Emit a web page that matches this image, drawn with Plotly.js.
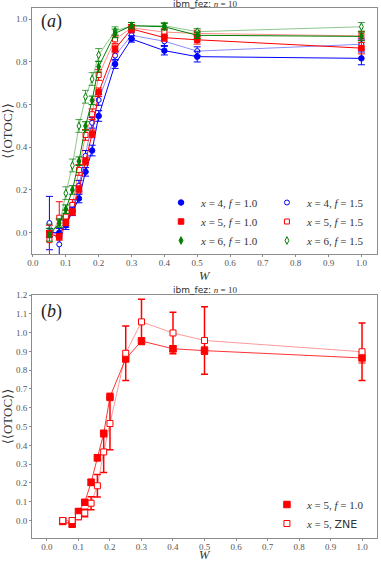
<!DOCTYPE html>
<html>
<head>
<meta charset="utf-8">
<script src="https://cdn.plot.ly/plotly-3.0.1.min.js"></script>
<style>
	html, body { margin: 0; padding: 0; background: #fff; }
	#plot { width: 381px; height: 563px; }
</style>
</head>
<body>
<div id="plot"></div>
<script>
(function () {

	'use strict';

	// disorder strengths
	const W = [0.05, 0.08, 0.1, 0.12, 0.14, 0.16, 0.18, 0.2, 0.25, 0.3, 0.4, 0.5, 1.0];

	// panel (a) - x = 4
	const x4_f10 = [0.0, 0.0, 0.035, 0.10, 0.16, 0.285, 0.385, 0.547, 0.79, 0.908, 0.853, 0.825, 0.817];
	const x4_f10_err = [0.02, 0.02, 0.02, 0.02, 0.02, 0.02, 0.025, 0.025, 0.02, 0.015, 0.02, 0.025, 0.03];
	const x4_f15 = [0.045, -0.055, 0.05, 0.115, 0.22, 0.36, 0.515, 0.622, 0.83, 0.925, 0.897, 0.851, 0.883];
	const x4_f15_err = [0.125, 0.05, 0.025, 0.02, 0.025, 0.025, 0.025, 0.025, 0.02, 0.015, 0.02, 0.02, 0.025];

	// x = 5 (also the filled series of panel b)
	const x5_f10 = [-0.005, -0.02, 0.048, 0.097, 0.203, 0.334, 0.463, 0.658, 0.861, 0.955, 0.914, 0.904, 0.865];
	const x5_f10_err = [0.015, 0.015, 0.015, 0.015, 0.017, 0.017, 0.018, 0.02, 0.018, 0.018, 0.017, 0.02, 0.027];
	const x5_f15 = [-0.035, 0.07, 0.075, 0.13, 0.294, 0.458, 0.555, 0.739, 0.906, 0.96, 0.94, 0.934, 0.922];
	const x5_f15_err = [0.07, 0.075, 0.03, 0.025, 0.025, 0.025, 0.025, 0.025, 0.02, 0.015, 0.015, 0.015, 0.02];

	// x = 6
	const x6_f10 = [-0.01, 0.045, 0.11, 0.2, 0.335, 0.5, 0.62, 0.778, 0.934, 0.97, 0.965, 0.925, 0.92];
	const x6_f10_err = [0.03, 0.02, 0.02, 0.02, 0.02, 0.02, 0.02, 0.025, 0.02, 0.015, 0.015, 0.015, 0.02];
	const x6_f15 = [0.01, 0.03, 0.185, 0.315, 0.50, 0.637, 0.72, 0.833, 0.945, 0.97, 0.97, 0.942, 0.965];
	const x6_f15_err = [0.03, 0.03, 0.03, 0.03, 0.03, 0.03, 0.03, 0.03, 0.02, 0.015, 0.015, 0.015, 0.02];

	// panel (b) - ZNE
	const zne = [0.0, 0.0, 0.02, 0.04, 0.092, 0.185, 0.365, 0.516, 0.89, 1.057, 0.998, 0.958, 0.898];
	const zne_err = [0.015, 0.012, 0.015, 0.02, 0.035, 0.06, 0.11, 0.14, 0.145, 0.12, 0.11, 0.18, 0.153];

	const serif = '"Liberation Serif", "DejaVu Serif", serif';
	const sans = '"DejaVu Sans", sans-serif';

	const label = ( x, f ) => `<i>x</i> = ${x}, <i>f</i> = ${f}`;

	/**
	* line + markers/errorbars pair for one series
	*/
	const series = ( y, err, o ) => {
		const line = {
			x: W, y: y,
			xaxis: o.xaxis, yaxis: o.yaxis,
			type: 'scatter', mode: 'lines',
			line: { color: o.lineColor, width: 1 },
			showlegend: false,
			hoverinfo: 'skip',
		};
		const pts = {
			x: W, y: y,
			xaxis: o.xaxis, yaxis: o.yaxis,
			name: o.name,
			legend: o.legend,
			type: 'scatter', mode: 'markers',
			marker: {
				symbol: o.symbol,
				size: o.size || 6,
				color: o.open ? '#ffffff' : o.color,
				line: { color: o.color, width: 1 },
			},
			error_y: {
				type: 'data', array: err, visible: true,
				color: o.errColor || o.color,
				thickness: o.errThick || 1,
				width: 3.5,
			},
		};
		return [ line, pts ];
	};

	const a = { xaxis: 'x', yaxis: 'y' };
	const b = { xaxis: 'x2', yaxis: 'y2' };

	const data = [].concat(
		series( x4_f15, x4_f15_err, { ...a, name: label(4, '1.5'), legend: 'legend2', color: '#0000ff', lineColor: 'rgba(0,0,255,0.45)', symbol: 'circle', open: true, size: 5 } ),
		series( x5_f15, x5_f15_err, { ...a, name: label(5, '1.5'), legend: 'legend2', color: '#ff0000', lineColor: 'rgba(255,0,0,0.45)', symbol: 'square', open: true, size: 5 } ),
		series( x6_f15, x6_f15_err, { ...a, name: label(6, '1.5'), legend: 'legend2', color: '#008000', lineColor: 'rgba(0,128,0,0.45)', errColor: 'rgba(0,128,0,0.7)', symbol: 'diamond-tall', open: true, size: 5.5 } ),
		series( x4_f10, x4_f10_err, { ...a, name: label(4, '1.0'), legend: 'legend', color: '#0000ff', lineColor: '#0000ff', symbol: 'circle', size: 5.5 } ),
		series( x5_f10, x5_f10_err, { ...a, name: label(5, '1.0'), legend: 'legend', color: '#ff0000', lineColor: '#ff0000', symbol: 'square', size: 5.5 } ),
		series( x6_f10, x6_f10_err, { ...a, name: label(6, '1.0'), legend: 'legend', color: '#008000', lineColor: '#008000', symbol: 'diamond-tall', size: 5.5 } ),
		series( x5_f10, x5_f10_err, { ...b, name: label(5, '1.0'), legend: 'legend3', color: '#ff0000', lineColor: 'rgba(255,0,0,0.8)', symbol: 'square', size: 6.5 } ),
		series( zne, zne_err, { ...b, name: `<i>x</i> = 5, <span style="font-family:DejaVu Sans">ZNE</span>`, legend: 'legend3', color: '#ff0000', lineColor: 'rgba(255,0,0,0.4)', symbol: 'square', open: true, size: 6, errThick: 1.5 } )
	);

	/**
	* axis template
	*/
	const axis = ( opts ) => Object.assign({
		showline: true, mirror: true,
		linecolor: '#8c8c8c', linewidth: 1,
		ticks: 'outside', ticklen: 2, tickcolor: '#8c8c8c',
		showgrid: false, zeroline: false,
		tickformat: '.1f',
		tickfont: { family: serif, size: 9, color: '#555' },
	}, opts );

	const legendBox = ( x, y ) => ({
		x: x, y: y, xanchor: 'left', yanchor: 'top',
		bgcolor: 'rgba(255,255,255,0)', borderwidth: 0,
		font: { family: serif, size: 11, color: '#333' },
		tracegroupgap: 0, itemwidth: 30,
	});

	const note = ( text, x, y, font, xanchor = 'center', yanchor = 'middle' ) => ({
		text: text,
		xref: 'paper', yref: 'paper', x: x, y: y,
		xanchor: xanchor, yanchor: yanchor, showarrow: false,
		borderpad: 0,
		font: font,
	});

	// paper y from a pixel row (plot area spans rows 8..538)
	const py = ( px ) => ( 538 - px ) / 530;

	const titleText = 'ibm_fez: <span style="font-family:Liberation Serif"><i>n</i> = 10</span>';
	const titleFont = { family: sans, size: 9, color: '#333' };
	const panelFont = { family: serif, size: 18, color: '#222' };
	const wFont = { family: serif, size: 12.5, color: '#333' };
	const yTitle = { text: '⟨⟨OTOC⟩⟩', standoff: 4, font: { family: serif, size: 13, color: '#333' } };

	const layout = {
		width: 381, height: 563,
		margin: { l: 32, r: 4, t: 8, b: 25 },
		paper_bgcolor: '#fff', plot_bgcolor: '#fff',
		showlegend: true,
		xaxis: axis({ domain: [0, 1], anchor: 'y', range: [-0.003, 1.0475], dtick: 0.1, tick0: 0, ticklabelstandoff: -2 }),
		yaxis: axis({ domain: [py(254), 1], anchor: 'x', range: [-0.1, 1.053], dtick: 0.2, tick0: 0, title: yTitle }),
		xaxis2: axis({ domain: [0, 1], anchor: 'y2', range: [-0.0475, 1.0475], dtick: 0.1, tick0: 0, ticklabelstandoff: -2 }),
		yaxis2: axis({ domain: [0, py(295)], anchor: 'x2', range: [-0.093, 1.2], dtick: 0.1, tick0: 0, title: yTitle }),
		legend: legendBox( 0.374, py(188) ),
		legend2: legendBox( 0.681, py(188) ),
		legend3: legendBox( 0.681, py(490) ),
		annotations: [
			note( titleText, 0.5, py(4), titleFont ),
			note( titleText, 0.5, py(290), titleFont ),
			note( '(<i>a</i>)', 0.022, py(22), panelFont, 'left' ),
			note( '(<i>b</i>)', 0.022, py(311), panelFont, 'left' ),
			// x axis titles
			note( '<i>W</i>', 0.5, py(284), wFont, 'center', 'bottom' ),
			note( '<i>W</i>', 0.5, py(563), wFont, 'center', 'bottom' ),
		],
	};

	Plotly.newPlot( 'plot', data, layout, { displayModeBar: false, responsive: false } );

})();
</script>
</body>
</html>
